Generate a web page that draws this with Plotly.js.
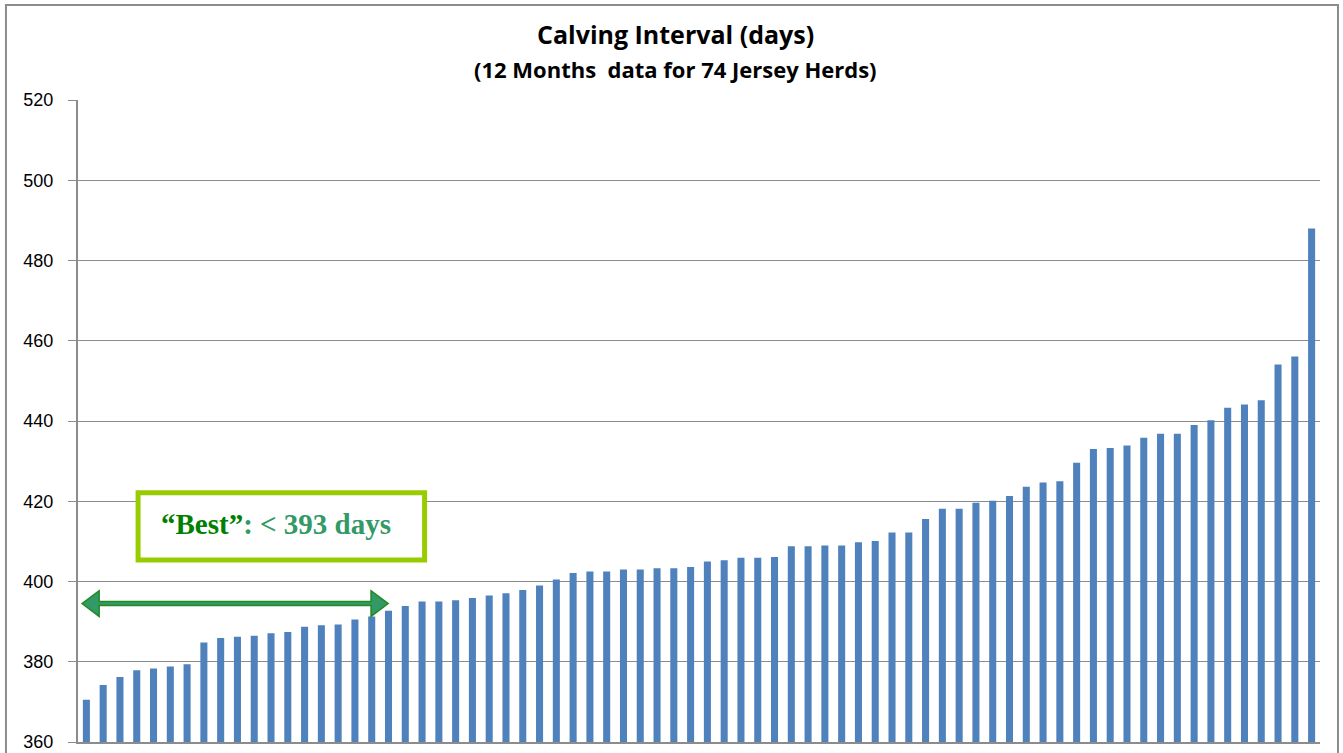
<!DOCTYPE html>
<html>
<head>
<meta charset="utf-8">
<script src="https://cdn.plot.ly/plotly-3.0.1.min.js"></script>
<style>
  html, body { margin: 0; padding: 0; background: #ffffff; }
  #chart { width: 1343px; height: 753px; }
</style>
</head>
<body>
<div id="chart"></div>
<script>
// Herd rank (1 = shortest calving interval)
const herds = [];
for (let i = 1; i <= 74; i++) herds.push(i);

// Calving interval in days, sorted ascending
const calvingInterval = [
  370.5, 374.2, 376.2, 377.9, 378.3, 378.8, 379.4, 384.8, 385.9, 386.2,
  386.5, 387.1, 387.4, 388.7, 389.1, 389.3, 390.5, 391.3, 392.7, 393.9,
  395.0, 395.0, 395.3, 395.9, 396.5, 397.1, 397.9, 399.0, 400.5, 402.1,
  402.5, 402.5, 403.0, 403.0, 403.3, 403.3, 403.6, 405.0, 405.3, 405.9,
  405.9, 406.1, 408.8, 408.8, 409.0, 409.0, 409.8, 410.1, 412.2, 412.2,
  415.6, 418.1, 418.1, 419.6, 420.1, 421.3, 423.6, 424.7, 425.0, 429.6,
  433.0, 433.3, 433.9, 435.8, 436.8, 436.8, 439.0, 440.2, 443.3, 444.1,
  445.2, 454.1, 456.1, 488.0
];

const yTicks = [360, 380, 400, 420, 440, 460, 480, 500, 520];
const titleText = "Calving Interval (days)";
const subtitleText = "(12 Months  data for 74 Jersey Herds)";
const bestLabel = '<span style="color:#008000">“Best”</span>: &lt; 393 days';
const bestThreshold = 393;

// "Best" range arrow: from just before herd 1 to just past herd 18
const arrowY = 394.5;
const arrowX0 = 0.74, arrowX1 = 18.98, headLen = 1.02, headHalf = 3.2, shaftHalf = 0.5;
const arrowPath =
  `M ${arrowX0},${arrowY} L ${arrowX0 + headLen},${arrowY + headHalf} L ${arrowX0 + headLen},${arrowY + shaftHalf} ` +
  `L ${arrowX1 - headLen},${arrowY + shaftHalf} L ${arrowX1 - headLen},${arrowY + headHalf} L ${arrowX1},${arrowY} ` +
  `L ${arrowX1 - headLen},${arrowY - headHalf} L ${arrowX1 - headLen},${arrowY - shaftHalf} ` +
  `L ${arrowX0 + headLen},${arrowY - shaftHalf} L ${arrowX0 + headLen},${arrowY - headHalf} Z`;

const trace = {
  type: 'bar',
  x: herds,
  y: calvingInterval,
  marker: { color: '#4F81BD', line: { width: 0 } },
  hoverinfo: 'x+y'
};

const layout = {
  width: 1343,
  height: 753,
  margin: { l: 78, r: 23, t: 100, b: 11 },
  paper_bgcolor: '#ffffff',
  plot_bgcolor: '#ffffff',
  showlegend: false,
  bargap: 0.58,
  xaxis: {
    range: [0.5, 74.5],
    showticklabels: false,
    ticks: '',
    showgrid: false,
    zeroline: false,
    showline: true,
    linecolor: '#8c8c8c',
    linewidth: 2
  },
  yaxis: {
    range: [360, 520],
    tickvals: yTicks,
    ticktext: yTicks.map(String),
    ticks: 'outside',
    ticklen: 8,
    tickcolor: '#8c8c8c',
    tickwidth: 1,
    ticklabelstandoff: 11,
    tickfont: { family: 'Liberation Sans, Arial, sans-serif', size: 18, color: '#000000' },
    showgrid: true,
    gridcolor: '#8c8c8c',
    gridwidth: 1,
    zeroline: false,
    showline: true,
    linecolor: '#8c8c8c',
    linewidth: 2
  },
  shapes: [
    // outer chart frame
    { type: 'rect', xref: 'paper', yref: 'paper', x0: -0.0580, x1: 1.0145, y0: -0.05, y1: 1.1480,
      line: { color: '#8c8c8c', width: 2 }, fillcolor: 'rgba(0,0,0,0)', layer: 'below' },
    // "Best" box
    { type: 'rect', xref: 'x', yref: 'y', x0: 4.08, x1: 21.15, y0: 405.36, y1: 422.13,
      line: { color: '#99CC00', width: 5 }, fillcolor: '#ffffff', layer: 'above' },
    // double-headed arrow
    { type: 'path', xref: 'x', yref: 'y', path: arrowPath,
      fillcolor: '#339966', line: { color: '#228B22', width: 1.5 }, layer: 'above' }
  ],
  annotations: [
    { text: '<b>' + titleText + '</b>', xref: 'paper', yref: 'paper', x: 0.4811, y: 1.1030,
      showarrow: false, xanchor: 'center', yanchor: 'middle',
      font: { family: 'Open Sans, sans-serif', size: 25, color: '#000000' } },
    { text: '<b>' + subtitleText + '</b>', xref: 'paper', yref: 'paper', x: 0.4811, y: 1.0480,
      showarrow: false, xanchor: 'center', yanchor: 'middle',
      font: { family: 'Open Sans, sans-serif', size: 22, color: '#000000' } },
    { text: '<b>' + bestLabel + '</b>', xref: 'x', yref: 'y', x: 12.3, y: 414.3,
      showarrow: false, xanchor: 'center', yanchor: 'middle',
      font: { family: 'Liberation Serif, Times New Roman, serif', size: 29, color: '#339966' } }
  ]
};

Plotly.newPlot('chart', [trace], layout, { displayModeBar: false, staticPlot: true });
</script>
</body>
</html>
